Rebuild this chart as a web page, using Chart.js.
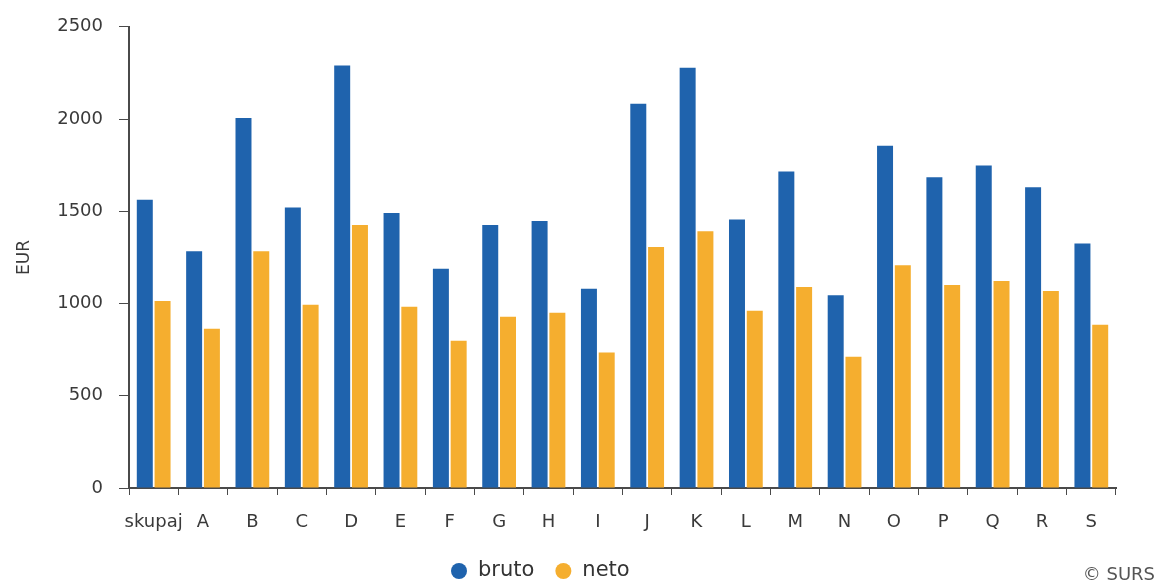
<!DOCTYPE html>
<html>
<head>
<meta charset="utf-8">
<script src="https://cdn.jsdelivr.net/npm/chart.js@4"></script>
<style>
  html, body { margin: 0; padding: 0; background: #fff; }
  #wrap { width: 1160px; height: 584px; position: relative; }
</style>
</head>
<body>
<div id="wrap"><canvas id="placa"></canvas></div>
<script>
const labels = ['skupaj','A','B','C','D','E','F','G','H','I','J','K','L','M','N','O','P','Q','R','S'];
const bruto = [1562,1284,2005,1520,2290,1490,1188,1426,1447,1080,2083,2278,1456,1715,1045,1855,1685,1748,1630,1326];
const neto  = [1013,863,1283,993,1425,982,798,928,950,734,1306,1392,961,1090,712,1208,1100,1122,1068,885];
const seriesNames = ['bruto','neto'];
const yTicks = [0,500,1000,1500,2000,2500];

const axisCol = '#4a4a4a';
const txtCol = '#3a3a3a';
const fontFam = '"DejaVu Sans", Verdana, sans-serif';

// legend at the bottom + copyright text
const dodatki = {
  id: 'dodatki',
  afterDraw(chart) {
    const ctx = chart.ctx;
    ctx.save();
    ctx.font = '21px ' + fontFam;
    ctx.textBaseline = 'middle';
    ctx.textAlign = 'left';
    let x = 459;
    const y = 571;
    chart.data.datasets.forEach((ds) => {
      ctx.fillStyle = ds.backgroundColor;
      ctx.beginPath();
      ctx.arc(x, y, 8, 0, Math.PI * 2);
      ctx.fill();
      ctx.fillStyle = '#333';
      ctx.fillText(ds.label, x + 19, y);
      x += 19 + ctx.measureText(ds.label).width + 29;
    });
    ctx.fillStyle = '#555';
    ctx.font = '18px ' + fontFam;
    ctx.textAlign = 'right';
    ctx.fillText('\u00a9 SURS', 1155, 575);
    ctx.restore();
  }
};

const config = {
  type: 'bar',
  data: {
    labels: labels,
    datasets: [{
      label: seriesNames[0],
      data: bruto,
      backgroundColor: '#1f63ad',
      borderWidth: 0
    }, {
      label: seriesNames[1],
      data: neto,
      backgroundColor: '#f5ae2f',
      borderWidth: 0
    }]
  },
  options: {
    responsive: true,
    maintainAspectRatio: false,
    animation: false,
    categoryPercentage: 0.72,
    barPercentage: 0.9,
    layout: { padding: { left: 14, right: 44, top: 25, bottom: 36 } },
    plugins: {
      legend: { display: false },
      tooltip: { enabled: false }
    },
    scales: {
      x: {
        grid: {
          display: true,
          offset: true,
          drawOnChartArea: false,
          drawTicks: true,
          tickLength: 7,
          color: axisCol
        },
        border: { color: axisCol, width: 2 },
        ticks: {
          color: txtCol,
          padding: 17,
          autoSkip: false,
          maxRotation: 0,
          font: { family: fontFam, size: 18 }
        },
        afterFit(scale) { scale.height = 60; }
      },
      y: {
        min: 0,
        max: 2500,
        afterBuildTicks(scale) { scale.ticks = yTicks.map(v => ({ value: v })); },
        grid: {
          display: true,
          drawOnChartArea: false,
          drawTicks: true,
          tickLength: 10,
          color: axisCol
        },
        border: { color: axisCol, width: 2 },
        ticks: {
          color: txtCol,
          padding: 16,
          font: { family: fontFam, size: 18 },
          callback: (v) => String(v)
        },
        title: {
          display: true,
          text: 'EUR',
          color: txtCol,
          padding: { top: 0, bottom: 4 },
          font: { family: fontFam, size: 17 }
        },
        afterFit(scale) { scale.width = 115; }
      }
    }
  },
  plugins: [dodatki]
};

const grafikon = new Chart(document.getElementById('placa'), config);
</script>
</body>
</html>
